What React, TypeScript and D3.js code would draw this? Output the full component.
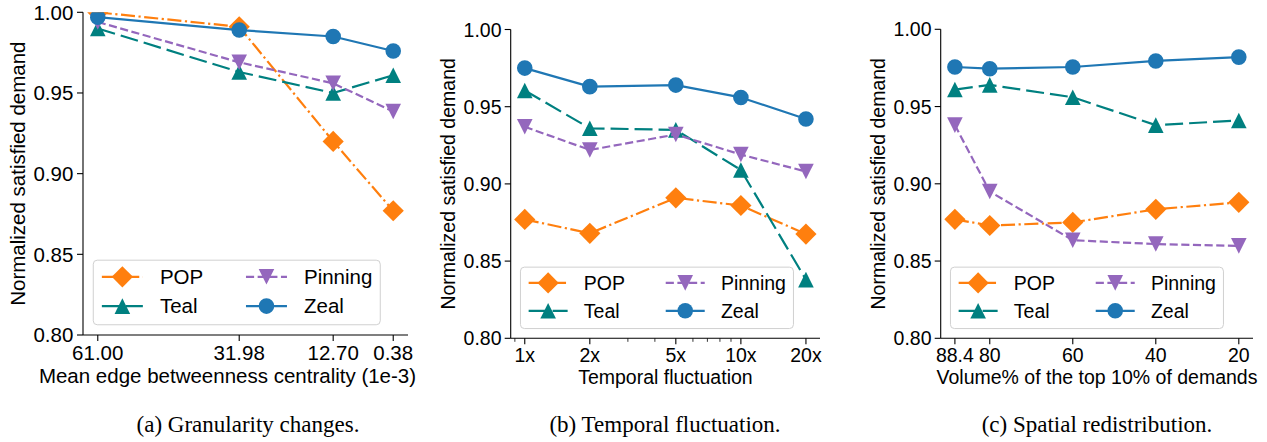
import React from 'react';
import * as d3 from 'd3';

// series order matches the legend (column-major, 2 columns)
const seriesNames = ['POP', 'Teal', 'Pinning', 'Zeal'];

// (a) granularity changes
const granX = [61.0, 31.98, 12.7, 0.38];
const granPOP = [1.0, 0.991, 0.92, 0.877];
const granTeal = [0.99, 0.963, 0.95, 0.961];
const granPinning = [0.994, 0.969, 0.956, 0.9385];
const granZeal = [0.997, 0.989, 0.985, 0.976];

// (b) temporal fluctuation
const tempX = [1, 2, 5, 10, 20];
const tempLabels = ['1x', '2x', '5x', '10x', '20x'];
const tempPOP = [0.877, 0.868, 0.891, 0.886, 0.8675];
const tempTeal = [0.9605, 0.936, 0.935, 0.909, 0.838];
const tempPinning = [0.937, 0.922, 0.932, 0.919, 0.908];
const tempZeal = [0.975, 0.963, 0.964, 0.956, 0.942];

// (c) spatial redistribution
const spatX = [88.4, 80, 60, 40, 20];
const spatLabels = ['88.4', '80', '60', '40', '20'];
const spatPOP = [0.877, 0.873, 0.875, 0.8835, 0.888];
const spatTeal = [0.961, 0.964, 0.956, 0.938, 0.941];
const spatPinning = [0.938, 0.895, 0.8635, 0.861, 0.8598];
const spatZeal = [0.9756, 0.9745, 0.9756, 0.9795, 0.982];

const yTicks = [0.8, 0.85, 0.9, 0.95, 1.0];
const yTickLabels = ['0.80', '0.85', '0.90', '0.95', '1.00'];

const SANS = '"Liberation Sans", Arial, Helvetica, sans-serif';
const SERIF = '"Liberation Serif", "Times New Roman", serif';
const LW = 2.2;

const STYLE: Record<string, { color: string; dash: string; marker: string }> = {
    POP: { color: '#ff7f0e', dash: [6.4, 1.6, 1, 1.6].map((v) => v * LW).join(' '), marker: 'diamond' },
    Teal: { color: '#008080', dash: '18 6', marker: 'up' },
    Pinning: { color: '#9467bd', dash: [3.7, 1.6].map((v) => v * LW).join(' '), marker: 'down' },
    Zeal: { color: '#1f77b4', dash: '', marker: 'circle' },
};

function markerPath(kind: string, cx: number, cy: number) {
    const p = d3.path();
    if (kind === 'circle') {
        const r = 7.8;
        p.moveTo(cx + r, cy);
        p.arc(cx, cy, r, 0, Math.PI * 2);
    } else if (kind === 'diamond') {
        const h = 10.6;
        p.moveTo(cx, cy - h);
        p.lineTo(cx + h, cy);
        p.lineTo(cx, cy + h);
        p.lineTo(cx - h, cy);
    } else if (kind === 'up') {
        const h = 7.8;
        p.moveTo(cx, cy - h);
        p.lineTo(cx + h, cy + h);
        p.lineTo(cx - h, cy + h);
    } else {
        const h = 7.8;
        p.moveTo(cx, cy + h);
        p.lineTo(cx + h, cy - h);
        p.lineTo(cx - h, cy - h);
    }
    p.closePath();
    return p.toString();
}

function linearMargin(xs: number[]) {
    const [lo, hi] = d3.extent(xs) as [number, number];
    const pad = (hi - lo) * 0.05;
    return d3.scaleLinear().domain([hi + pad, lo - pad]);
}

function logMargin(xs: number[]) {
    const [lo, hi] = d3.extent(xs) as [number, number];
    const r = Math.pow(hi / lo, 0.05);
    return d3.scaleLog().domain([lo / r, hi * r]);
}

type PanelCfg = {
    id: string;
    x0: number; x1: number; y0: number; y1: number;
    fs: number;
    x: any;
    xVals: number[];
    xLabels: string[];
    minor?: number[];
    values: number[][];
    xlabel: string;
    xlabelX: number;
    caption: string;
    captionX: number;
};

function Legend({ left, bottom, fs }: { left: number; bottom: number; fs: number }) {
    const h = 3.15 * fs;
    const w = 14.0 * fs;
    const top = bottom - h;
    const rows = [top + 0.81 * fs, top + 2.24 * fs];
    const cols = [0.42 * fs, 7.45 * fs];
    return (
        <g>
            <rect x={left} y={top} width={w} height={h} rx={4} ry={4}
                fill="#fff" fillOpacity={0.8} stroke="#d0d0d0" strokeWidth={1} />
            {seriesNames.map((name, i) => {
                const st = STYLE[name];
                const hx = left + cols[Math.floor(i / 2)];
                const cy = rows[i % 2];
                return (
                    <g key={name}>
                        <line x1={hx} x2={hx + 2 * fs} y1={cy} y2={cy} stroke={st.color}
                            strokeWidth={LW} strokeDasharray={st.dash || undefined} />
                        <path d={markerPath(st.marker, hx + fs, cy)} fill={st.color} />
                        <text x={hx + 2.83 * fs} y={cy + 0.36 * fs} fontSize={fs} fontFamily={SANS} fill="#000">
                            {name}
                        </text>
                    </g>
                );
            })}
        </g>
    );
}

function Panel({ cfg }: { cfg: PanelCfg }) {
    const { id, x0, x1, y0, y1, fs } = cfg;
    const x = cfg.x.copy().range([x0, x1]);
    const y = d3.scaleLinear().domain([0.8, 1.0]).range([y1, y0]);
    const line = d3.line<[number, number]>().x((d) => x(d[0])).y((d) => y(d[1]));
    const tick = 6;

    return (
        <g>
            <defs>
                <clipPath id={`clip-${id}`}>
                    <rect x={x0} y={y0} width={x1 - x0} height={y1 - y0} />
                </clipPath>
            </defs>

            <g clipPath={`url(#clip-${id})`}>
                {seriesNames.map((name, si) => {
                    const st = STYLE[name];
                    const pts = cfg.xVals.map((v, i) => [v, cfg.values[si][i]] as [number, number]);
                    return (
                        <g key={name}>
                            <path d={line(pts) || ''} fill="none" stroke={st.color} strokeWidth={LW}
                                strokeDasharray={st.dash || undefined} strokeLinejoin="round" />
                            {pts.map((p, i) => (
                                <path key={i} d={markerPath(st.marker, x(p[0]), y(p[1]))} fill={st.color} />
                            ))}
                        </g>
                    );
                })}
            </g>

            {/* spines */}
            <line x1={x0} x2={x0} y1={y0} y2={y1} stroke="#000" strokeWidth={1.1} />
            <line x1={x0} x2={x1} y1={y1} y2={y1} stroke="#000" strokeWidth={1.1} />

            {yTicks.map((t, i) => (
                <g key={t}>
                    <line x1={x0 - tick} x2={x0} y1={y(t)} y2={y(t)} stroke="#000" strokeWidth={1.1} />
                    <text x={x0 - 0.47 * fs} y={y(t) + 0.36 * fs} textAnchor="end" fontSize={fs}
                        fontFamily={SANS} fill="#000">
                        {yTickLabels[i]}
                    </text>
                </g>
            ))}

            {cfg.xVals.map((v, i) => (
                <g key={v}>
                    <line x1={x(v)} x2={x(v)} y1={y1} y2={y1 + tick} stroke="#000" strokeWidth={1.1} />
                    <text x={x(v)} y={y1 + 1.22 * fs} textAnchor="middle" fontSize={fs}
                        fontFamily={SANS} fill="#000">
                        {cfg.xLabels[i]}
                    </text>
                </g>
            ))}

            {(cfg.minor || []).map((v) => (
                <line key={`m-${v}`} x1={x(v)} x2={x(v)} y1={y1} y2={y1 + 3.5} stroke="#000" strokeWidth={0.8} />
            ))}

            <text x={cfg.xlabelX} y={y1 + 2.34 * fs} textAnchor="middle" fontSize={fs}
                fontFamily={SANS} fill="#000">
                {cfg.xlabel}
            </text>

            <text transform={`translate(${x0 - 2.85 * fs},${(y0 + y1) / 2}) rotate(-90)`} textAnchor="middle"
                fontSize={fs} fontFamily={SANS} fill="#000">
                Normalized satisfied demand
            </text>

            <Legend left={x0 + 0.5 * fs} bottom={y1 - 0.5 * fs} fs={fs} />

            <text x={cfg.captionX} y={432} textAnchor="middle" fontSize={23} fontFamily={SERIF} fill="#000">
                {cfg.caption}
            </text>
        </g>
    );
}

export default function App() {
    const tempScale = logMargin(tempX);
    const tempMinor = tempScale.ticks().filter((t: number) => !tempX.includes(t));

    const panels: PanelCfg[] = [
        {
            id: 'a', x0: 83, x1: 408, y0: 12.3, y1: 335, fs: 20.5,
            x: linearMargin(granX), xVals: granX, xLabels: granX.map(d3.format('.2f')),
            values: [granPOP, granTeal, granPinning, granZeal],
            xlabel: 'Mean edge betweenness centrality (1e-3)', xlabelX: 227.5,
            caption: '(a) Granularity changes.', captionX: 248,
        },
        {
            id: 'b', x0: 510.7, x1: 820, y0: 29.5, y1: 338.3, fs: 19.5,
            x: tempScale, xVals: tempX, xLabels: tempLabels, minor: tempMinor,
            values: [tempPOP, tempTeal, tempPinning, tempZeal],
            xlabel: 'Temporal fluctuation', xlabelX: 665.4,
            caption: '(b) Temporal fluctuation.', captionX: 665,
        },
        {
            id: 'c', x0: 940.7, x1: 1253, y0: 29.3, y1: 338.3, fs: 19.5,
            x: linearMargin(spatX), xVals: spatX, xLabels: spatLabels,
            values: [spatPOP, spatTeal, spatPinning, spatZeal],
            xlabel: 'Volume% of the top 10% of demands', xlabelX: 1097,
            caption: '(c) Spatial redistribution.', captionX: 1097,
        },
    ];

    return (
        <svg width={1267} height={442} style={{ position: 'absolute', left: 0, top: 0, background: '#fff' }}>
            <rect width={1267} height={442} fill="#fff" />
            {panels.map((p) => (
                <Panel key={p.id} cfg={p} />
            ))}
        </svg>
    );
}
